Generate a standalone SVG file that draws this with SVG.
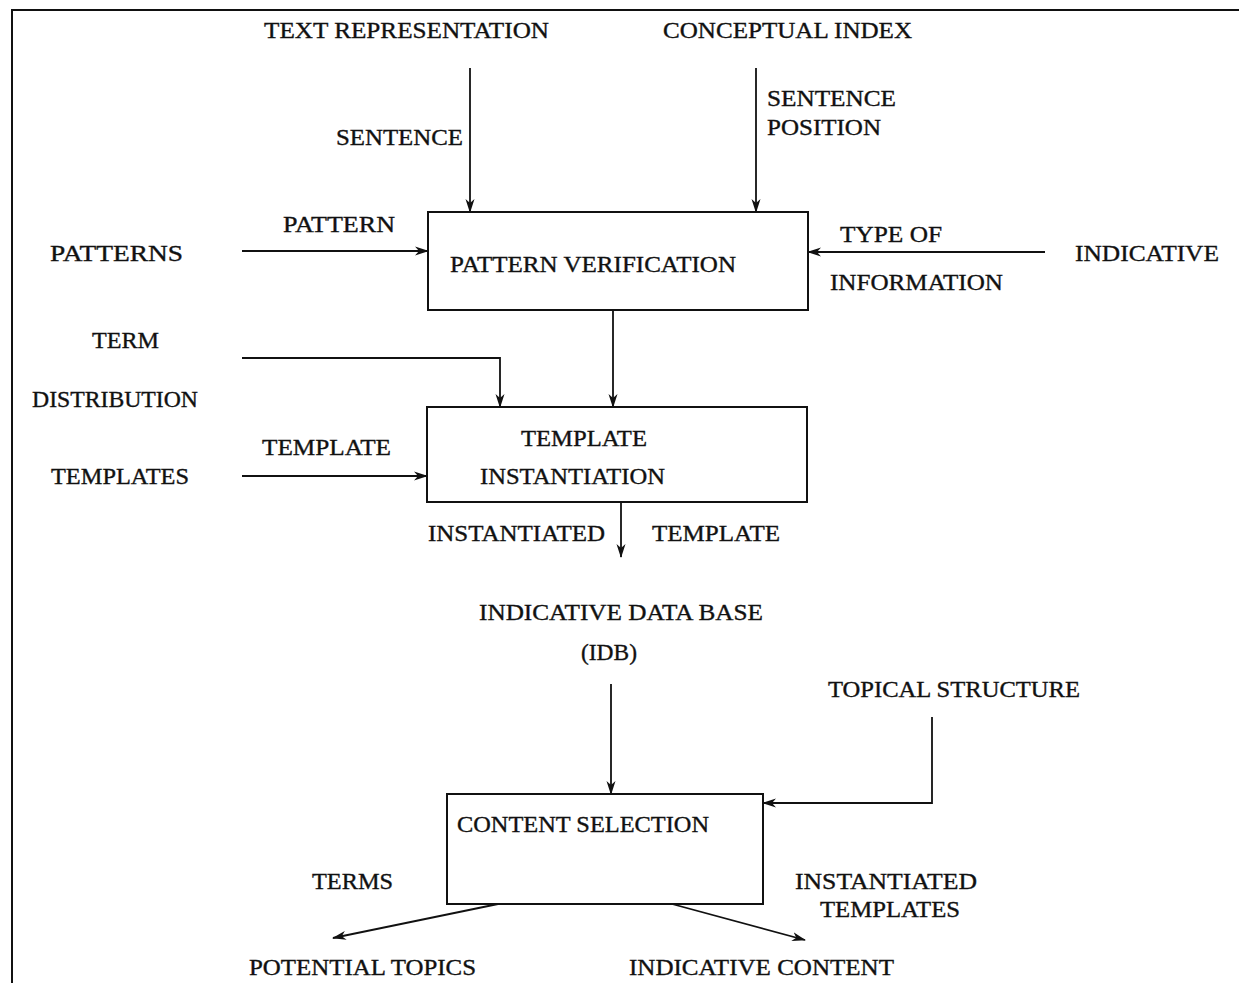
<svg xmlns="http://www.w3.org/2000/svg" width="1239" height="983" viewBox="0 0 1239 983">
<style>
text{font-family:"Liberation Serif","Times New Roman",serif;font-size:23px;fill:#111;stroke:#111;stroke-width:0.35}
.box{fill:#fff;stroke:#111;stroke-width:2}
.ln{fill:none;stroke:#111;stroke-width:1.8}
.frame{fill:none;stroke:#111;stroke-width:2}
</style>
<defs>
<marker id="ah" viewBox="0 0 14 10" refX="13" refY="5" markerWidth="14" markerHeight="10" markerUnits="userSpaceOnUse" orient="auto">
<path d="M0,0.5 L14,5 L0,9.5 L4,5 Z" fill="#111"/>
</marker>
</defs>
<rect width="1239" height="983" fill="#fff"/>
<path class="frame" d="M12,983 L12,10 L1239,10"/>
<g id="connectors">
<line class="ln" x1="470" y1="68" x2="470" y2="212" marker-end="url(#ah)"/>
<line class="ln" x1="756" y1="68" x2="756" y2="212" marker-end="url(#ah)"/>
<line class="ln" x1="242" y1="251" x2="428" y2="251" marker-end="url(#ah)"/>
<line class="ln" x1="1045" y1="252" x2="808" y2="252" marker-end="url(#ah)"/>
<line class="ln" x1="613" y1="310" x2="613" y2="407" marker-end="url(#ah)"/>
<path class="ln" d="M242,358 L500,358 L500,407" marker-end="url(#ah)"/>
<line class="ln" x1="242" y1="476" x2="427" y2="476" marker-end="url(#ah)"/>
<line class="ln" x1="621" y1="502" x2="621" y2="557" marker-end="url(#ah)"/>
<line class="ln" x1="611" y1="684" x2="611" y2="794" marker-end="url(#ah)"/>
<path class="ln" d="M932,717 L932,803 L763,803" marker-end="url(#ah)"/>
<line class="ln" x1="498" y1="904" x2="333" y2="938" marker-end="url(#ah)"/>
<line class="ln" x1="672" y1="904" x2="805" y2="940" marker-end="url(#ah)"/>
</g>
<g id="pattern-verification">
<rect class="box" x="428" y="212" width="380" height="98"/>
<text x="450" y="272" textLength="286" lengthAdjust="spacingAndGlyphs">PATTERN VERIFICATION</text>
</g>
<g id="template-instantiation">
<rect class="box" x="427" y="407" width="380" height="95"/>
<text x="521" y="446" textLength="126" lengthAdjust="spacingAndGlyphs">TEMPLATE</text>
<text x="480" y="484" textLength="185" lengthAdjust="spacingAndGlyphs">INSTANTIATION</text>
</g>
<g id="content-selection">
<rect class="box" x="447" y="794" width="316" height="110"/>
<text x="457" y="832" textLength="252" lengthAdjust="spacingAndGlyphs">CONTENT SELECTION</text>
</g>
<g id="text-representation"><text x="264" y="38" textLength="285" lengthAdjust="spacingAndGlyphs">TEXT REPRESENTATION</text></g>
<g id="conceptual-index"><text x="663" y="38" textLength="249" lengthAdjust="spacingAndGlyphs">CONCEPTUAL INDEX</text></g>
<g id="patterns"><text x="50" y="261" textLength="133" lengthAdjust="spacingAndGlyphs">PATTERNS</text></g>
<g id="indicative"><text x="1075" y="261" textLength="144" lengthAdjust="spacingAndGlyphs">INDICATIVE</text></g>
<g id="term-distribution">
<text x="92" y="348" textLength="67" lengthAdjust="spacingAndGlyphs">TERM</text>
<text x="32" y="407" textLength="166" lengthAdjust="spacingAndGlyphs">DISTRIBUTION</text>
</g>
<g id="templates"><text x="51" y="484" textLength="138" lengthAdjust="spacingAndGlyphs">TEMPLATES</text></g>
<g id="idb">
<text x="479" y="620" textLength="284" lengthAdjust="spacingAndGlyphs">INDICATIVE DATA BASE</text>
<text x="581" y="660" textLength="56" lengthAdjust="spacingAndGlyphs">(IDB)</text>
</g>
<g id="topical-structure"><text x="828" y="697" textLength="252" lengthAdjust="spacingAndGlyphs">TOPICAL STRUCTURE</text></g>
<g id="potential-topics"><text x="249" y="975" textLength="227" lengthAdjust="spacingAndGlyphs">POTENTIAL TOPICS</text></g>
<g id="indicative-content"><text x="629" y="975" textLength="265" lengthAdjust="spacingAndGlyphs">INDICATIVE CONTENT</text></g>
<g id="labels">
<text x="336" y="145" textLength="127" lengthAdjust="spacingAndGlyphs">SENTENCE</text>
<text x="767" y="106" textLength="129" lengthAdjust="spacingAndGlyphs">SENTENCE</text>
<text x="767" y="135" textLength="114" lengthAdjust="spacingAndGlyphs">POSITION</text>
<text x="283" y="232" textLength="112" lengthAdjust="spacingAndGlyphs">PATTERN</text>
<text x="840" y="242" textLength="102" lengthAdjust="spacingAndGlyphs">TYPE OF</text>
<text x="830" y="290" textLength="173" lengthAdjust="spacingAndGlyphs">INFORMATION</text>
<text x="262" y="455" textLength="129" lengthAdjust="spacingAndGlyphs">TEMPLATE</text>
<text x="428" y="541" textLength="177" lengthAdjust="spacingAndGlyphs">INSTANTIATED</text>
<text x="652" y="541" textLength="128" lengthAdjust="spacingAndGlyphs">TEMPLATE</text>
<text x="312" y="889" textLength="81" lengthAdjust="spacingAndGlyphs">TERMS</text>
<text x="795" y="889" textLength="182" lengthAdjust="spacingAndGlyphs">INSTANTIATED</text>
<text x="820" y="917" textLength="140" lengthAdjust="spacingAndGlyphs">TEMPLATES</text>
</g>
</svg>
